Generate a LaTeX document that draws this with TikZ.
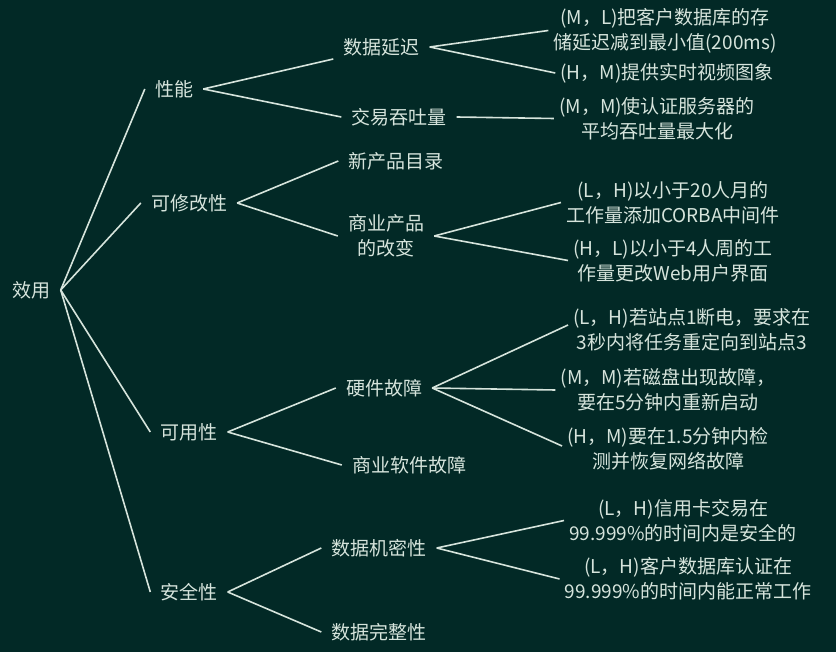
\documentclass[tikz,border=0pt]{standalone}
\usepackage{fontspec}
\setmainfont{Noto Sans CJK SC}
\definecolor{bgc}{RGB}{2,41,38}
\definecolor{fgc}{RGB}{214,228,220}
\begin{document}
\begin{tikzpicture}[x=1pt,y=-1pt,
  every node/.style={text=fgc,font=\fontsize{19}{25}\selectfont,align=center,inner ysep=3pt},
  inner/.style={inner xsep=10pt},
  leaf/.style={inner xsep=5pt},
  conn/.style={draw=fgc,line width=1.6pt}]
\fill[bgc] (0,0) rectangle (836,652);
\useasboundingbox (0,0) rectangle (836,652);
% root and level 1
\node[inner] (root) at (31.5,290) {效用};
\node[inner] (xn) at (174,89) {性能};
\node[inner] (kx) at (189,203) {可修改性};
\node[inner] (ky) at (189,432) {可用性};
\node[inner] (aq) at (189,592) {安全性};
% level 2
\node[inner] (dl) at (381.5,47) {数据延迟};
\node[inner] (jy) at (399,117) {交易吞吐量};
\node[inner] (xc) at (396,161) {新产品目录};
\node[inner] (sy) at (386,236) {商业产品\\的改变};
\node[inner] (yj) at (384,388) {硬件故障};
\node[inner] (sr) at (409,465) {商业软件故障};
\node[inner] (jm) at (379,548) {数据机密性};
\node[inner] (wz) at (379,632) {数据完整性};
% leaves
\node[leaf] (l1) at (665,30.5) {(M，L)把客户数据库的存\\储延迟减到最小值(200ms)};
\node[leaf] (l2) at (667,73) {(H，M)提供实时视频图象};
\node[leaf] (l3) at (657,118.5) {(M，M)使认证服务器的\\平均吞吐量最大化};
\node[leaf] (l4) at (673,202.5) {(L，H)以小于20人月的\\工作量添加CORBA中间件};
\node[leaf] (l5) at (673,260.5) {(H，L)以小于4人周的工\\作量更改Web用户界面};
\node[leaf] (l6) at (692,330) {(L，H)若站点1断电，要求在\\3秒内将任务重定向到站点3};
\node[leaf] (l7) at (668,390) {(M，M)若磁盘出现故障，\\要在5分钟内重新启动};
\node[leaf] (l8) at (668,449) {(H，M)要在1.5分钟内检\\测并恢复网络故障};
\node[leaf] (l9) at (683,520.5) {(L，H)信用卡交易在\\99.999\%的时间内是安全的};
\node[leaf] (l10) at (688,579) {(L，H)客户数据库认证在\\99.999\%的时间内能正常工作};
% connectors
\foreach \t in {xn,kx,ky,aq} \draw[conn] (root.east) -- (\t.west);
\draw[conn] (xn.east) -- ([yshift=-12pt]dl.west);
\draw[conn] (xn.east) -- (jy.west);
\draw[conn] (kx.east) -- (xc.west);
\draw[conn] (kx.east) -- (sy.west);
\draw[conn] (ky.east) -- (yj.west);
\draw[conn] (ky.east) -- (sr.west);
\draw[conn] (aq.east) -- (jm.west);
\draw[conn] (aq.east) -- (wz.west);
\draw[conn] (dl.east) -- (l1.west);
\draw[conn] (dl.east) -- (l2.west);
\draw[conn] (jy.east) -- (l3.west);
\draw[conn] (sy.east) -- (l4.west);
\draw[conn] (sy.east) -- (l5.west);
\draw[conn] (yj.east) -- ([yshift=5pt]l6.west);
\draw[conn] (yj.east) -- (l7.west);
\draw[conn] (yj.east) -- ([yshift=3pt]l8.west);
\draw[conn] (jm.east) -- (l9.west);
\draw[conn] (jm.east) -- (l10.west);
\end{tikzpicture}
\end{document}
